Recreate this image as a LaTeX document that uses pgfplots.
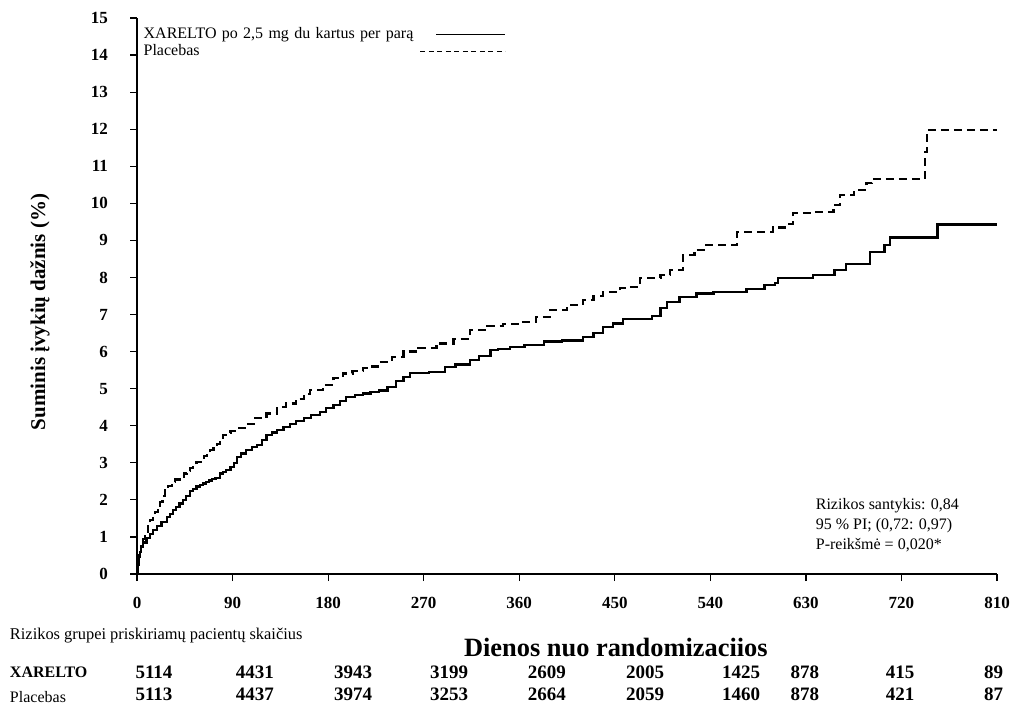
\documentclass[border=0pt]{standalone}
\usepackage{fontspec}
\setmainfont{Liberation Serif}
\usepackage{pgfplots}
\pgfplotsset{compat=1.18}
\tikzset{tabnum/.style={font=\bfseries\fontsize{9.5}{11}\selectfont, inner sep=0pt}}
\begin{document}
\begin{tikzpicture}
\begin{axis}[
  name=ax,
  scale only axis,
  width=430pt, height=278pt,
  xmin=0, xmax=810, ymin=0, ymax=15,
  axis x line*=bottom, axis y line*=left,
  axis line style={-, line width=0.6pt},
  tick style={line width=0.6pt, black},
  tick align=outside,
  major tick length=3.5pt,
  xtick={0,90,...,810},
  ytick={0,1,...,15},
  /pgf/number format/assume math mode=true,
  ticklabel style={font=\bfseries\fontsize{8.5}{10}\selectfont},
  yticklabel style={xshift=-7.5pt},
  xticklabel style={yshift=-4.5pt},
  clip=false,
  legend plot pos=right,
  legend cell align=left,
  legend style={draw=none, fill=none, inner sep=0pt, at={(axis cs:4,14.76)}, anchor=north west,
    font=\fontsize{8}{8.5}\selectfont, row sep=1.2pt,
    nodes={text width=137pt, align=left, inner ysep=0pt, inner xsep=1pt, text height=5.7pt, text depth=1.6pt}},
]
\addplot[const plot, black, line width=1.1pt,
  legend image code/.code={\draw[black, line width=0.6pt] (-8pt,0pt) -- (26.5pt,0pt);}] coordinates {
(0,0) (1,0.25) (2,0.45) (3,0.6) (4,0.72) (6,0.85) (9,0.97) (12,1.08) (15,1.18)
(19,1.3) (23,1.4) (28,1.53) (31,1.62) (34,1.72) (37,1.8) (40,1.9) (43,2.0)
(46,2.1) (50,2.24) (53,2.3) (56,2.36) (59,2.4) (62,2.44) (65,2.48) (68,2.52)
(71,2.56) (74,2.6) (78,2.71) (81,2.76) (84,2.8) (88,2.88) (91,3.0)
(94,3.15) (98,3.25) (103,3.34) (108,3.42) (113,3.48) (118,3.62)
(122,3.75) (127,3.82) (132,3.88) (138,3.96) (144,4.04) (150,4.12) (157,4.2)
(164,4.3) (172,4.38) (178,4.47) (185,4.56) (191,4.66) (197,4.78) (205,4.83)
(213,4.87) (220,4.92) (228,4.95) (236,5.05) (244,5.2) (251,5.32) (257,5.42)
(265,5.43) (275,5.45) (290,5.59) (300,5.65) (314,5.77) (322,5.88) (333,6.04)
(340,6.08) (351,6.13) (365,6.17) (383,6.27) (400,6.3) (420,6.4) (430,6.5)
(439,6.67) (448,6.76) (458,6.87) (477,6.87) (485,6.95) (493,7.17) (499,7.34)
(511,7.48) (527,7.57) (543,7.6) (574,7.68) (591,7.8) (601,7.85) (604,7.98)
(637,8.07) (657,8.2) (668,8.36) (690,8.69) (704,8.87) (709,9.08) (754,9.43)
(810,9.43)
};
\addlegendentry{XARELTO po 2,5 mg du kartus per parą}
\addplot[const plot, black, line width=1.1pt, dash pattern=on 4pt off 2.5pt,
  legend image code/.code={\draw[black, line width=0.6pt, dash pattern=on 2.5pt off 1.75pt] (-16pt,0pt) -- (26.5pt,0pt);}] coordinates {
(0,0) (1,0.3) (2,0.5) (4,0.75) (6,0.95) (7.5,1.1) (10,1.3) (12.5,1.45) (15,1.58)
(17,1.68) (20,1.85) (22,1.95) (24,2.1) (26,2.26) (29,2.38) (33,2.49) (36,2.55)
(40,2.63) (44,2.71) (47,2.78) (50,2.85) (53,2.94) (56,3.03) (60,3.1) (63,3.18)
(66,3.26) (69,3.34) (72,3.42) (75,3.5) (78,3.62) (81,3.75) (85,3.8) (88,3.85)
(94,3.93) (102,4.05) (110,4.2) (122,4.33) (132,4.51) (140,4.6) (150,4.73)
(157,4.85) (163,4.96) (175,5.1) (185,5.28) (194,5.41) (203,5.48) (213,5.55)
(220,5.6) (227,5.73) (240,5.85) (251,6.0) (265,6.1) (282,6.22) (298,6.35)
(314,6.58) (330,6.7) (345,6.74) (360,6.8) (376,6.94) (389,7.12) (405,7.25)
(420,7.39) (430,7.5) (439,7.61) (455,7.71) (464,7.75) (474,7.98) (493,8.07)
(502,8.2) (514,8.6) (525,8.75) (535,8.87) (555,8.87) (565,9.22) (592,9.22)
(599,9.35) (612,9.44) (618,9.74) (637,9.77) (656,9.95) (662,10.22) (675,10.36)
(687,10.54) (692,10.66) (731,10.66) (742,11.39) (744,11.98) (810,11.98)
};
\addlegendentry{Placebas}
% y label
\node[rotate=90, font=\bfseries\fontsize{10.5}{12}\selectfont] at (axis cs:-91.4,7.07) {Suminis įvykių dažnis (\%)};
% annotation
\node[anchor=north west, align=left, font=\fontsize{8}{10}\selectfont, inner sep=0pt]
  at (axis cs:639,2.05) {Rizikos santykis: 0,84\\95 \% PI; (0,72: 0,97)\\P-reikšmė = 0,020*};
% x label
\node[font=\bfseries\fontsize{13.2}{15}\selectfont] at (axis cs:451,-1.97) {Dienos nuo randomizaciios};
% risk table
\node[anchor=west, font=\fontsize{8.2}{10}\selectfont, inner sep=0pt] at (axis cs:-120,-1.67) {Rizikos grupei priskiriamų pacientų skaičius};
\node[anchor=west, font=\bfseries\fontsize{8}{10}\selectfont, inner sep=0pt] at (axis cs:-120,-2.64) {XARELTO};
\node[anchor=west, font=\fontsize{8}{10}\selectfont, inner sep=0pt] at (axis cs:-120,-3.32) {Placebas};
\node[tabnum] at (axis cs:16,-2.64) {5114};
\node[tabnum] at (axis cs:111,-2.64) {4431};
\node[tabnum] at (axis cs:203.5,-2.64) {3943};
\node[tabnum] at (axis cs:294,-2.64) {3199};
\node[tabnum] at (axis cs:386,-2.64) {2609};
\node[tabnum] at (axis cs:478.5,-2.64) {2005};
\node[tabnum] at (axis cs:569,-2.64) {1425};
\node[tabnum] at (axis cs:629,-2.64) {878};
\node[tabnum] at (axis cs:718.7,-2.64) {415};
\node[tabnum] at (axis cs:806.7,-2.64) {89};
\node[tabnum] at (axis cs:16,-3.24) {5113};
\node[tabnum] at (axis cs:111,-3.24) {4437};
\node[tabnum] at (axis cs:203.5,-3.24) {3974};
\node[tabnum] at (axis cs:294,-3.24) {3253};
\node[tabnum] at (axis cs:386,-3.24) {2664};
\node[tabnum] at (axis cs:478.5,-3.24) {2059};
\node[tabnum] at (axis cs:569,-3.24) {1460};
\node[tabnum] at (axis cs:629,-3.24) {878};
\node[tabnum] at (axis cs:718.7,-3.24) {421};
\node[tabnum] at (axis cs:806.7,-3.24) {87};
\end{axis}
\pgfresetboundingbox
\path ([xshift=-68.5pt,yshift=-65pt]ax.south west) rectangle ([xshift=6.5pt,yshift=9pt]ax.north east);
\end{tikzpicture}
\end{document}
